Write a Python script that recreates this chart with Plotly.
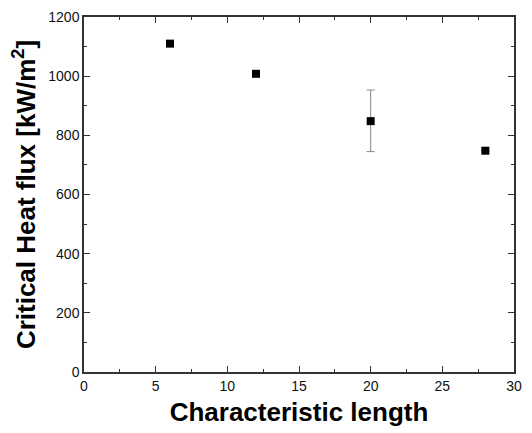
import plotly.graph_objects as go

char_length = [6, 12, 20, 28]
chf = [1110, 1008, 848, 748]
err_plus = [0, 0, 105, 0]
err_minus = [0, 0, 103, 0]
x_ticks = [0, 5, 10, 15, 20, 25, 30]
y_ticks = [0, 200, 400, 600, 800, 1000, 1200]

fig = go.Figure()
fig.add_trace(go.Scatter(
    x=char_length, y=chf, mode="markers",
    marker=dict(symbol="square", size=8, color="black"),
    error_y=dict(type="data", symmetric=False, array=err_plus, arrayminus=err_minus,
                 color="#888888", thickness=1, width=4),
    showlegend=False,
))

axis_common = dict(
    showline=True, linecolor="#333333", linewidth=1.5, mirror="allticks",
    ticks="inside", ticklen=6, tickwidth=1.3, tickcolor="#333333",
    showgrid=False, zeroline=False, automargin=False,
    tickfont=dict(family="Liberation Sans, Arial", size=14, color="#111111"),
)

fig.update_xaxes(
    range=[0, 30], tickvals=x_ticks,
    minor=dict(ticks="inside", ticklen=3, tickwidth=1.3, tickcolor="#333333", dtick=2.5, tick0=0),
    title=dict(text="Characteristic length", font=dict(family="Liberation Sans, Arial", size=26, color="black", weight="bold"), standoff=10),
    **axis_common,
)
fig.update_yaxes(
    range=[0, 1200], tickvals=y_ticks,
    minor=dict(ticks="inside", ticklen=3, tickwidth=1.3, tickcolor="#333333", dtick=100, tick0=0),
    title=dict(text="Critical Heat flux [kW/m<sup>2</sup>]", font=dict(family="Liberation Sans, Arial", size=26, color="black", weight="bold"), standoff=5),
    **axis_common,
)
fig.update_layout(
    width=532, height=433,
    margin=dict(l=84, r=18, t=17, b=61),
    paper_bgcolor="white", plot_bgcolor="white",
    font=dict(family="Liberation Sans, Arial"),
)
fig.write_html("out.html", config={"displayModeBar": False},
               post_script="document.body.style.margin='0';document.body.style.overflow='hidden';")
